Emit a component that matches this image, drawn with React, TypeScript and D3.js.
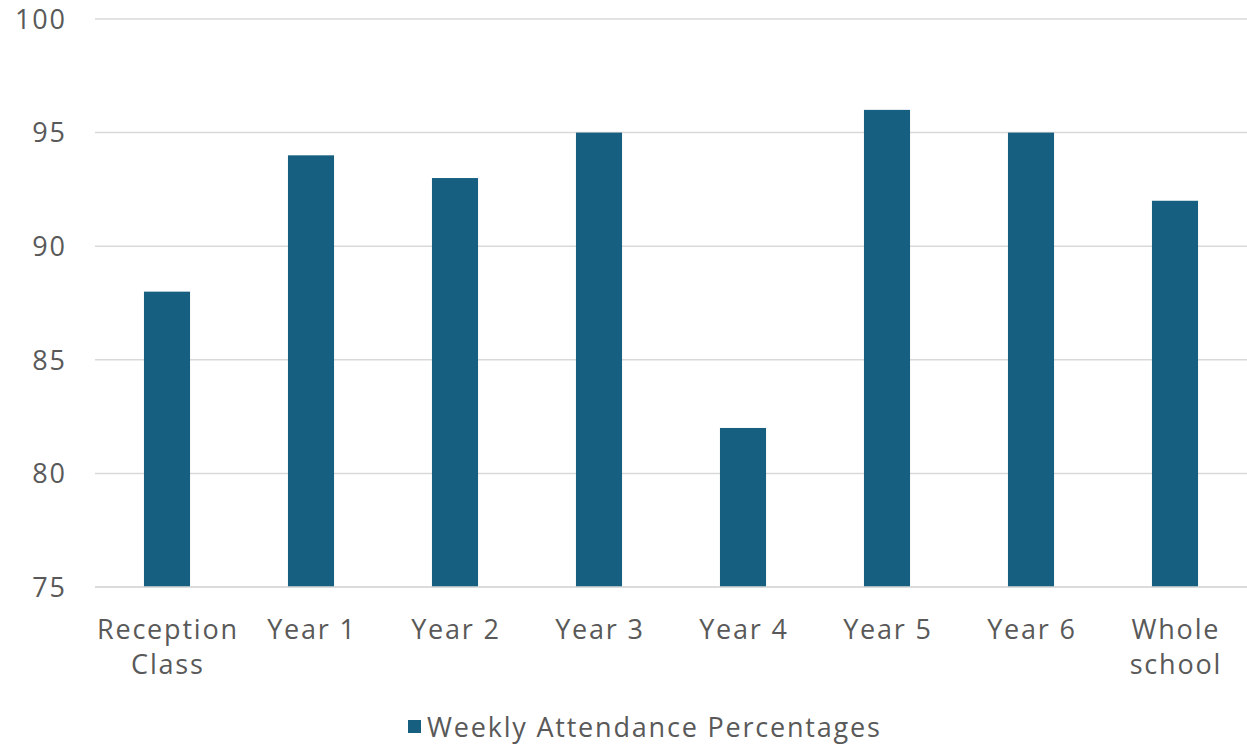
import React from "react";
import * as d3 from "d3";

const categories: string[][] = [
  ["Reception", "Class"],
  ["Year 1"],
  ["Year 2"],
  ["Year 3"],
  ["Year 4"],
  ["Year 5"],
  ["Year 6"],
  ["Whole", "school"],
];
const values: number[] = [88, 94, 93, 95, 82, 96, 95, 92];
const yTicks: number[] = [75, 80, 85, 90, 95, 100];
const seriesName = "Weekly Attendance Percentages";

const W = 1247;
const H = 747;
const FONT = "'Open Sans', sans-serif";
const TEXT = "#595959";
const BAR = "#175f80";
const FS = 27;
const LS = 1.8;

export default function App() {
  const x = d3
    .scaleBand<number>()
    .domain(d3.range(categories.length))
    .range([95, 1247])
    .paddingInner(0.68)
    .paddingOuter(0.34);
  const y = d3.scaleLinear().domain([75, 100]).range([587, 19]);

  return (
    <svg
      width={W}
      height={H}
      style={{ position: "absolute", left: 0, top: 0, background: "#fff" }}
      fontFamily={FONT}
      letterSpacing={LS}
    >
      {yTicks.map((t) => (
        <g key={t}>
          <line x1={95} x2={1247} y1={y(t)} y2={y(t)} stroke="#d9d9d9" strokeWidth={1.5} />
          <text x={65 + LS} y={y(t)} dy="0.36em" textAnchor="end" fontSize={FS} fill={TEXT}>
            {t}
          </text>
        </g>
      ))}
      {values.map((v, i) => (
        <rect
          key={i}
          x={x(i)}
          y={y(v)}
          width={x.bandwidth()}
          height={y(75) - y(v)}
          fill={BAR}
        />
      ))}
      <line x1={95} x2={1247} y1={y(75)} y2={y(75)} stroke="#d9d9d9" strokeWidth={1.5} />
      {categories.map((lines, i) => {
        const cx = (x(i) as number) + x.bandwidth() / 2 + LS / 2;
        return (
          <text key={i} x={cx} y={639} textAnchor="middle" fontSize={FS} fill={TEXT}>
            {lines.map((l, j) => (
              <tspan key={j} x={cx} dy={j === 0 ? 0 : 35}>
                {l}
              </tspan>
            ))}
          </text>
        );
      })}
      <rect x={408} y={720} width={13} height={13} fill={BAR} />
      <text x={427} y={737} fontSize={FS} fill={TEXT}>
        {seriesName}
      </text>
    </svg>
  );
}
